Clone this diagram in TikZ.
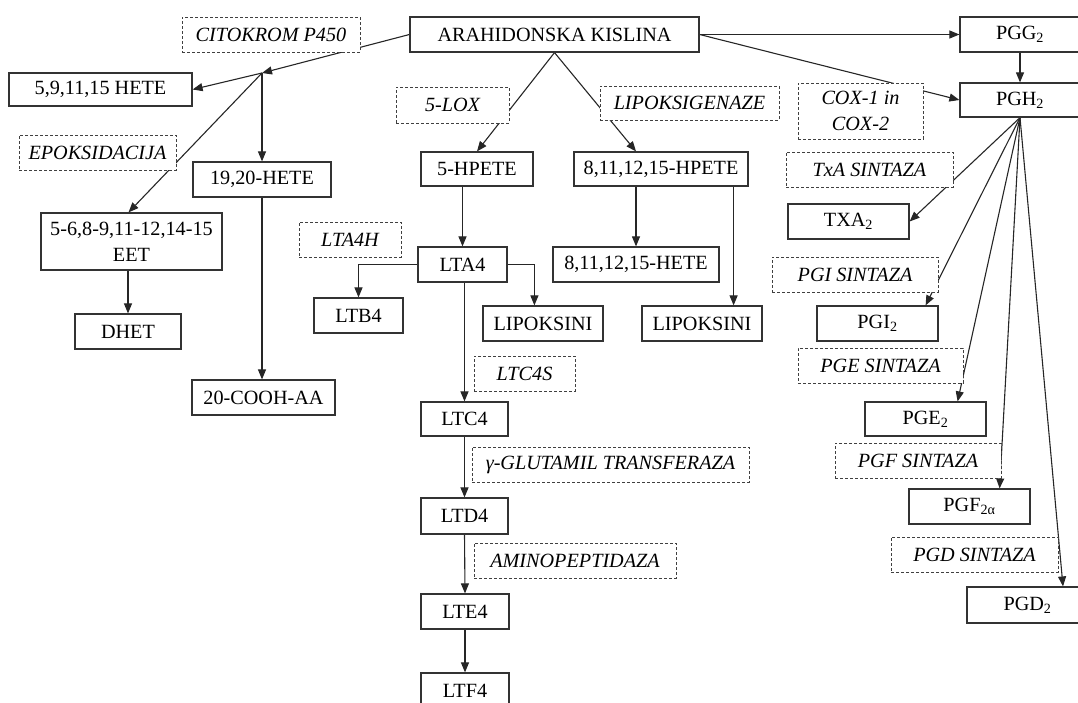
\documentclass[tikz,border=0pt]{standalone}
\usepackage{fontspec}
\setmainfont{Liberation Serif}
\usetikzlibrary{arrows.meta,calc}
\pgfdeclarelayer{bg}
\pgfsetlayers{bg,main}
\begin{document}
\begin{tikzpicture}[x=1pt,y=-1pt,
  every node/.style={font=\fontsize{20.2}{26}\selectfont, inner sep=0pt, align=center},
  box/.style={draw=black!80, line width=1.2pt, fill=white},
  dbox/.style={draw=black!75, line width=1pt, dash pattern=on 3pt off 2pt, fill=white, font=\fontsize{20.2}{26}\selectfont\itshape},
  arr/.style={draw=black!85, line width=1.1pt, -{Triangle[length=10pt,width=8pt]}},
  ln/.style={draw=black!85, line width=1.1pt}]
\useasboundingbox (0,0) rectangle (1078,702);

% solid boxes
\node[box, minimum width=289pt, minimum height=35pt] (ara) at (554.5,34.5) {ARAHIDONSKA KISLINA};
\node[box, minimum width=120pt, minimum height=35pt] (pgg) at (1020,34.5) {PGG\textsubscript{2}};
\node[box, minimum width=120pt, minimum height=34pt] (pgh) at (1020,100) {PGH\textsubscript{2}};
\node[box, minimum width=183pt, minimum height=33pt] (hete5) at (100.5,89.5) {5,9,11,15 HETE};
\node[box, minimum width=138pt, minimum height=35pt] (hete19) at (262,179.5) {19,20-HETE};
\node[box, minimum width=181pt, minimum height=57pt] (eet) at (131.5,241.5) {5-6,8-9,11-12,14-15\\EET};
\node[box, minimum width=106pt, minimum height=35pt] (dhet) at (128,331.5) {DHET};
\node[box, minimum width=143pt, minimum height=35pt] (cooh) at (263.5,397.5) {20-COOH-AA};
\node[box, minimum width=89pt, minimum height=35pt] (ltb4) at (358.5,315.5) {LTB4};
\node[box, minimum width=89pt, minimum height=35pt] (lta4) at (462.5,264.5) {LTA4};
\node[box, minimum width=120pt, minimum height=35pt] (lip1) at (543,323.5) {LIPOKSINI};
\node[box, minimum width=166pt, minimum height=35pt] (hete8) at (636,264.5) {8,11,12,15-HETE};
\node[box, minimum width=120pt, minimum height=35pt] (lip2) at (702,323.5) {LIPOKSINI};
\node[box, minimum width=112pt, minimum height=34pt] (hpete5) at (477,169) {5-HPETE};
\node[box, minimum width=174pt, minimum height=34pt] (hpete8) at (661,169) {8,11,12,15-HPETE};
\node[box, minimum width=121pt, minimum height=35pt] (txa) at (848.5,221.5) {TXA\textsubscript{2}};
\node[box, minimum width=121pt, minimum height=35pt] (pgi) at (877.5,323.5) {PGI\textsubscript{2}};
\node[box, minimum width=121pt, minimum height=34pt] (pge) at (925.5,419) {PGE\textsubscript{2}};
\node[box, minimum width=121pt, minimum height=35pt] (pgf) at (969.5,506.5) {PGF\textsubscript{2α}};
\node[box, minimum width=121pt, minimum height=36pt] (pgd) at (1027.5,605) {PGD\textsubscript{2}};
\node[box, minimum width=87pt, minimum height=34pt] (ltc4) at (464.5,419) {LTC4};
\node[box, minimum width=87pt, minimum height=36pt] (ltd4) at (464.5,516) {LTD4};
\node[box, minimum width=88pt, minimum height=35pt] (lte4) at (465,611.5) {LTE4};
\node[box, minimum width=88pt, minimum height=35pt] (ltf4) at (465,690.5) {LTF4};

% dashed enzyme boxes
\node[dbox, minimum width=178pt, minimum height=35pt] (cito) at (271,34.5) {CITOKROM P450};
\node[dbox, minimum width=157pt, minimum height=35pt] (epo) at (97.5,152.5) {EPOKSIDACIJA};
\node[dbox, minimum width=113pt, minimum height=36pt] (lox) at (452.5,105) {5-LOX};
\node[dbox, minimum width=179pt, minimum height=34pt] (lipo) at (689.5,103) {LIPOKSIGENAZE};
\node[dbox, minimum width=125pt, minimum height=56pt] (cox) at (860.5,111) {COX-1 in\\COX-2};
\node[dbox, minimum width=167pt, minimum height=35pt] (txs) at (869.5,169.5) {TxA SINTAZA};
\node[dbox, minimum width=102pt, minimum height=35pt] (lta4h) at (350,239.5) {LTA4H};
\node[dbox, minimum width=101pt, minimum height=35pt] (ltc4s) at (524.5,373.5) {LTC4S};
\node[dbox, minimum width=166pt, minimum height=35pt] (pgis) at (855,274.5) {PGI SINTAZA};
\node[dbox, minimum width=165pt, minimum height=35pt] (pges) at (880.5,365.5) {PGE SINTAZA};
\node[dbox, minimum width=166pt, minimum height=35pt] (pgfs) at (918,460.5) {PGF SINTAZA};
\node[dbox, minimum width=167pt, minimum height=35pt] (pgds) at (974.5,554.5) {PGD SINTAZA};
\node[dbox, minimum width=277pt, minimum height=35pt] (glut) at (610.5,464.5) {γ-GLUTAMIL TRANSFERAZA};
\node[dbox, minimum width=202pt, minimum height=35pt] (amino) at (575,560.5) {AMINOPEPTIDAZA};

\coordinate (J) at (262,73);

\begin{pgfonlayer}{bg}
% cytochrome P450 branch
\draw[arr] (ara.west) -- (J);
\draw[arr] (J) -- (hete5.east);
\draw[arr] (J) -- ($(eet.north)+(-3,0)$);
\draw[arr] (J) -- (hete19.north);
\draw[arr] (dhet.north |- eet.south) -- (dhet.north);
\draw[arr] (hete19.south) -- (cooh.north -| hete19.south);
% lipoxygenase branch
\draw[arr] (ara.south) -- (hpete5.north);
\draw[arr] (ara.south) -- (hete8.north |- hpete8.north);
\draw[arr] (lta4.north |- hpete5.south) -- (lta4.north);
\draw[arr] (hete8.north |- hpete8.south) -- (hete8.north);
\draw[arr] ($(hpete8.south east)+(-15,0)$) coordinate (h8r) -- (h8r |- lip2.north);
\draw[arr] (lta4.west) -| (ltb4.north);
\draw[arr] (lta4.east) -| ($(lip1.north west)+(52,0)$);
\draw[arr] (ltc4.north |- lta4.south) -- (ltc4.north);
\draw[arr] (ltc4.south) -- (ltd4.north);
\draw[arr] (ltd4.south) -- (lte4.north);
\draw[arr] (lte4.south) -- (ltf4.north);
% cyclooxygenase branch
\draw[arr] (ara.east) -- (pgg.west);
\draw[arr] (ara.east) -- (pgh.west);
\draw[arr] (pgg.south) -- (pgh.north);
\draw[arr] (pgh.south) -- (txa.east);
\draw[arr] (pgh.south) -- ($(pgi.north east)+(-13,0)$);
\draw[arr] (pgh.south) -- ($(pge.north east)+(-29,0)$);
\draw[arr] (pgh.south) -- ($(pgf.north east)+(-31,0)$);
\draw[arr] (pgh.south) -- ($(pgd.north)+(35.5,0)$);
\end{pgfonlayer}
\end{tikzpicture}
\end{document}
